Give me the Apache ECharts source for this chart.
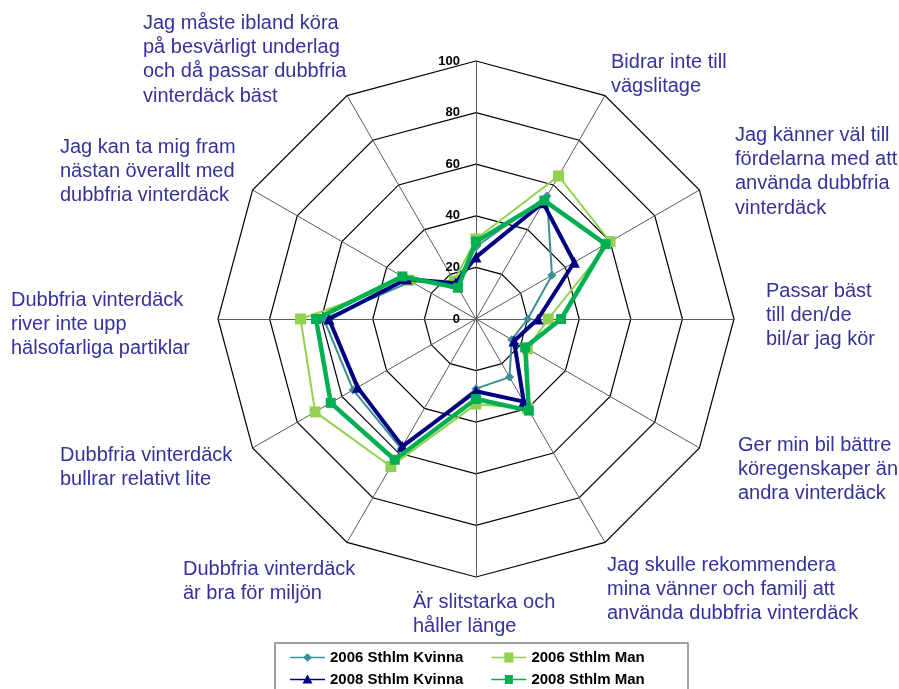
<!DOCTYPE html>
<html>
<head>
<meta charset="utf-8">
<script src="https://cdn.jsdelivr.net/npm/echarts@6/dist/echarts.min.js"></script>
<style>
  html, body { margin: 0; padding: 0; background: #fff; }
  #chart { width: 899px; height: 689px; }
</style>
</head>
<body>
<div id="chart"></div>
<script>
// Statements, clockwise from the top spoke
const categories = [
  '',
  'Bidrar inte till\nvägslitage',
  'Jag känner väl till\nfördelarna med att\nanvända dubbfria\nvinterdäck',
  'Passar bäst\ntill den/de\nbil/ar jag kör',
  'Ger min bil bättre\nköregenskaper än\nandra vinterdäck',
  'Jag skulle rekommendera\nmina vänner och familj att\nanvända dubbfria vinterdäck',
  'Är slitstarka och\nhåller länge',
  'Dubbfria vinterdäck\när bra för miljön',
  'Dubbfria vinterdäck\nbullrar relativt lite',
  'Dubbfria vinterdäck\nriver inte upp\nhälsofarliga partiklar',
  'Jag kan ta mig fram\nnästan överallt med\ndubbfria vinterdäck',
  'Jag måste ibland köra\npå besvärligt underlag\noch då passar dubbfria\nvinterdäck bäst'
];

const seriesNames = ['2006 Sthlm Kvinna', '2006 Sthlm Man', '2008 Sthlm Kvinna', '2008 Sthlm Man'];

// Share agreeing (%), same clockwise order as categories
const kvinna2006 = [28, 55, 34, 20, 16, 26, 27, 58, 55, 59, 29, 16];
const man2006    = [31, 64, 60, 28, 23, 40, 33, 66, 72, 68, 30, 17];
const kvinna2008 = [24, 52, 44, 24, 17, 37, 28, 57, 53, 57, 31, 16];
const man2008    = [30, 53, 58, 33, 22, 41, 31, 63, 65, 62, 33, 14];

const scaleMax = 100;
const scaleSteps = 5;

// Text box placement for the statements: [left x, centre of first line]
const labelPlacement = [
  null, [611, 62], [735, 135], [766, 291], [738, 445], [607, 565],
  [413, 602], [183, 569], [60, 455], [11, 300], [60, 147], [143, 23]
];

const N = categories.length;
// ECharts places radar indicators counter-clockwise; reorder the clockwise lists.
function radarOrder(arr) {
  return arr.map(function (_, j) { return arr[j === 0 ? 0 : N - j]; });
}

const styles = [
  { color: '#3a8f98', width: 2,   symbol: 'diamond',  size: 9 },
  { color: '#92d050', width: 2,   symbol: 'rect',     size: 11 },
  { color: '#000080', width: 4,   symbol: 'triangle', size: 11 },
  { color: '#00b050', width: 4.5, symbol: 'rect',     size: 10 }
];

// Legend glyphs: a short line with the series marker in the middle
const legendIcons = [
  'path://M0 4.7H35V6.3H0Z M17.5 1.2L22 5.5L17.5 9.8L13 5.5Z',
  'path://M0 4.7H35V6.3H0Z M13 0.5H22V10.5H13Z',
  'path://M0 4.7H35V6.3H0Z M17.5 0.5L22.5 9.5H12.5Z',
  'path://M0 4.7H35V6.3H0Z M13.5 1H21.5V10H13.5Z'
];
// keep a common bounding box for all icons
const iconBox = ' M0 0H0.01V0.01H0Z M34.99 10.99H35V11H34.99Z';

const values = [kvinna2006, man2006, kvinna2008, man2008];

const chart = echarts.init(document.getElementById('chart'), null, { renderer: 'canvas' });

const labelFont = '20px "Liberation Sans", Arial, sans-serif';
const lineH = 24.4;

const graphics = [{
  type: 'rect',
  z: 1,
  shape: { x: 275, y: 643, width: 413, height: 60 },
  style: { fill: '#fff', stroke: '#808080', lineWidth: 1.5 }
}];
categories.forEach(function (txt, i) {
  const p = labelPlacement[i];
  if (!p || !txt) return;
  graphics.push({
    type: 'text',
    x: p[0],
    y: p[1] - lineH / 2,
    z: 10,
    style: {
      text: txt,
      font: labelFont,
      fill: '#333399',
      lineHeight: lineH,
      verticalAlign: 'top',
      align: 'left'
    }
  });
});

function legendFor(idxs, top) {
  return {
    left: 290,
    top: top,
    orient: 'horizontal',
    itemWidth: 35,
    itemHeight: 11,
    itemGap: 28,
    padding: 0,
    textStyle: {
      fontFamily: '"Liberation Sans", Arial, sans-serif',
      fontWeight: 'bold',
      fontSize: 15,
      color: '#000',
      padding: [0, 0, 0, 0]
    },
    data: idxs.map(function (k) {
      return { name: seriesNames[k], icon: legendIcons[k] + iconBox, itemStyle: { color: styles[k].color, borderWidth: 0 } };
    })
  };
}

const option = {
  animation: false,
  backgroundColor: '#fff',
  graphic: graphics,
  legend: [legendFor([0, 1], 650), legendFor([2, 3], 672)],
  radar: {
    center: [476, 319],
    radius: 258,
    startAngle: 90,
    shape: 'polygon',
    splitNumber: scaleSteps,
    axisName: { show: false },
    splitArea: { show: false },
    splitLine: { lineStyle: { color: '#000', width: 1.2 } },
    axisLine: { lineStyle: { color: '#5a5a5a', width: 1 } },
    axisTick: { show: false },
    axisLabel: {
      show: true,
      color: '#000',
      fontWeight: 'bold',
      fontSize: 13,
      margin: 16,
      padding: [8, 0, 0, 0],
      fontFamily: '"Liberation Sans", Arial, sans-serif'
    },
    indicator: radarOrder(categories).map(function (name, j) {
      return { name: name, min: 0, max: scaleMax, axisLabel: { show: j === 0 } };
    })
  },
  series: values.map(function (arr, k) {
    const s = styles[k];
    return {
      type: 'radar',
      name: seriesNames[k],
      z: 2 + k,
      symbol: s.symbol,
      symbolSize: s.size,
      lineStyle: { color: s.color, width: s.width },
      itemStyle: { color: s.color },
      data: [{ name: seriesNames[k], value: radarOrder(arr) }]
    };
  })
};

chart.setOption(option);
</script>
</body>
</html>
